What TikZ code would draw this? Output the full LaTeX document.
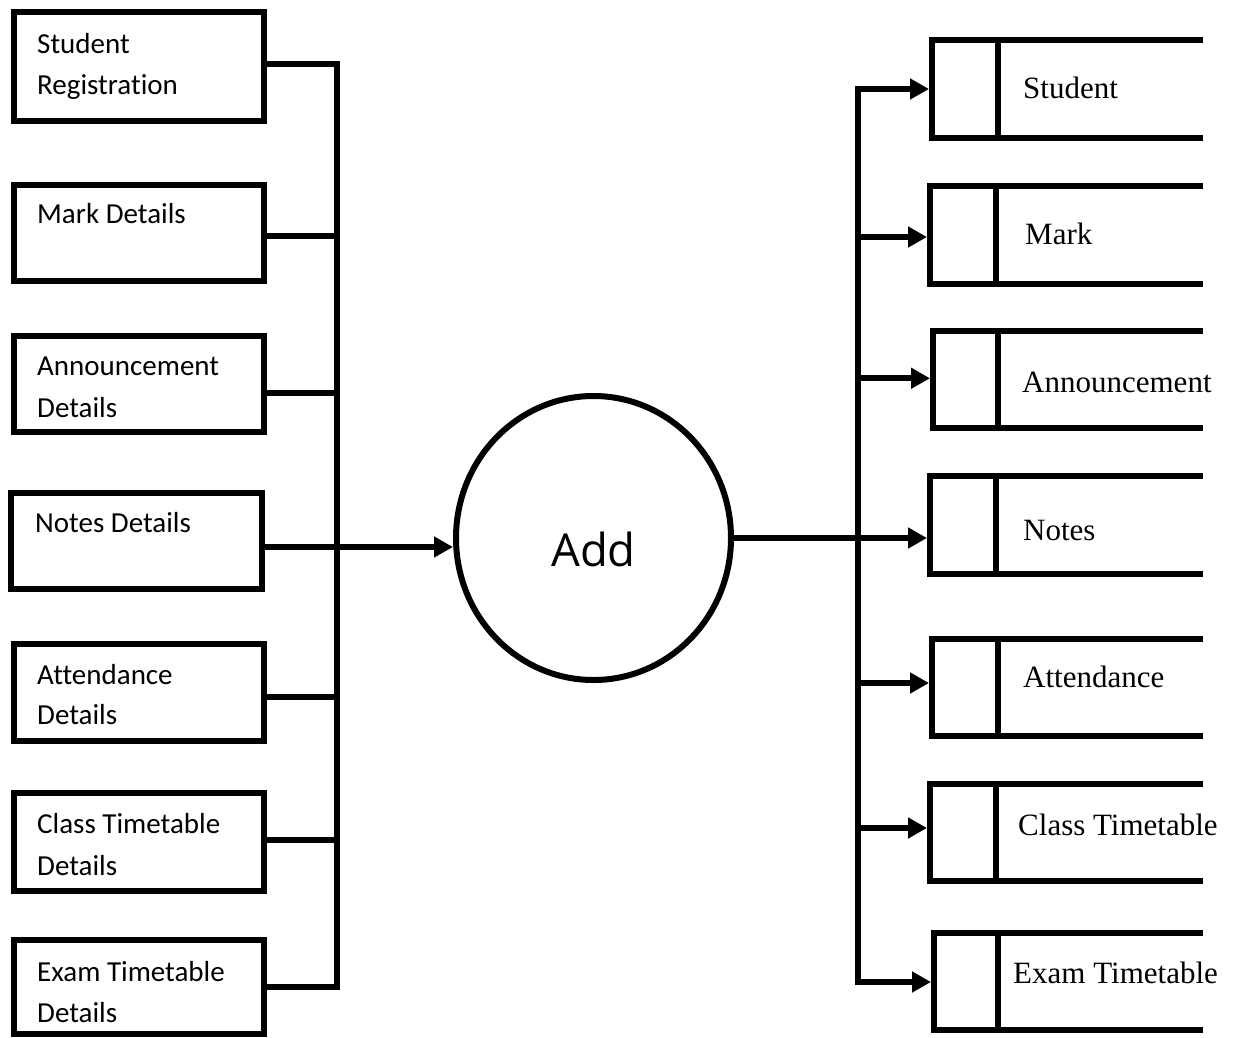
\documentclass[tikz,border=0pt]{standalone}
\usepackage{fontspec}
\newfontfamily\calfont[Ligatures={NoCommon,NoContextual}]{Carlito}
\newfontfamily\tnrfont{Liberation Serif}
\newfontfamily\osfont{Open Sans}
\usetikzlibrary{shapes.geometric,arrows.meta}
\tikzset{
  ln/.style={line width=6pt},
  arr/.style={line width=6pt,-{Triangle[length=19pt,width=20pt]}},
  lbox/.style={draw,line width=6pt,rectangle,inner sep=0pt,minimum width=250.5pt},
  sbox/.style={draw,line width=6pt,rectangle,inner sep=0pt,outer sep=0pt,minimum width=66pt,minimum height=98pt},
  ltxt/.style={anchor=base west,inner sep=0pt,font=\calfont\fontsize{29}{35}\selectfont},
  rtxt/.style={anchor=base west,inner sep=0pt,font=\tnrfont\fontsize{31}{37}\selectfont},
}
\begin{document}
\begin{tikzpicture}[x=1pt,y=-1pt]
\useasboundingbox (0,0) rectangle (1240,1037);
% left boxes
\node[lbox,minimum height=109pt] (b1) at (138.75,66.5) {};
\node[lbox,minimum height=96.5pt] (b2) at (138.75,232.75) {};
\node[lbox,minimum height=96pt] (b3) at (138.75,383.5) {};
\node[lbox,minimum height=95.5pt] (b4) at (136.5,540.75) {};
\node[lbox,minimum height=96.5pt] (b5) at (138.75,692.25) {};
\node[lbox,minimum height=98pt] (b6) at (138.75,842) {};
\node[lbox,minimum height=94pt] (b7) at (138.75,987) {};
% left texts
\node[ltxt] (t1a) at (37,53) {Student};
\node[ltxt] (t1b) at (37,94) {Registration};
\node[ltxt] (t2) at (37,223) {Mark Details};
\node[ltxt] (t3a) at (37,375) {Announcement};
\node[ltxt] (t3b) at (37,417) {Details};
\node[ltxt] (t4) at (35,532) {Notes Details};
\node[ltxt] (t5a) at (37,684) {Attendance};
\node[ltxt] (t5b) at (37,724) {Details};
\node[ltxt] (t6a) at (37,833) {Class Timetable};
\node[ltxt] (t6b) at (37,875) {Details};
\node[ltxt] (t7a) at (37,981) {Exam Timetable};
\node[ltxt] (t7b) at (37,1022) {Details};
% process
\node[draw,ellipse,line width=6pt,inner sep=0pt,minimum width=275pt,minimum height=284pt] (add) at (593.5,538) {};
\node[anchor=base,inner sep=0pt,font=\osfont\fontsize{45.5}{54}\selectfont] (addt) at (593.5,566) {Add};
% left bus
\coordinate (lbus) at (337,0);
\draw[ln,line join=miter] ([yshift=2.5pt]b1.east) -- ([yshift=2.5pt]b1.east -| lbus) -- (b7.east -| lbus) -- (b7.east);
\draw[ln] ([yshift=-3.25pt]b2.east) -- ([yshift=-3.25pt]b2.east -| lbus);
\draw[ln] ([yshift=-9.5pt]b3.east) -- ([yshift=-9.5pt]b3.east -| lbus);
\draw[ln] ([yshift=-4.75pt]b5.east) -- ([yshift=-4.75pt]b5.east -| lbus);
\draw[ln] ([yshift=2pt]b6.east) -- ([yshift=2pt]b6.east -| lbus);
\draw[arr] ([yshift=-6.25pt]b4.east) -- ([yshift=-6.25pt]b4.east -| add.west);
% data stores
\node[sbox] (s1) at (965,89) {};
\node[sbox] (s2) at (963,235) {};
\node[sbox,minimum width=65pt,minimum height=97.5pt] (s3) at (965.5,379.25) {};
\node[sbox,minimum height=97.5pt] (s4) at (963,524.75) {};
\node[sbox,minimum height=97pt] (s5) at (965,687.5) {};
\node[sbox,minimum height=97pt] (s6) at (963,832.5) {};
\node[sbox,minimum width=64pt,minimum height=97pt] (s7) at (966,981.5) {};
\coordinate (rend) at (1203,0);
\foreach \s in {s1,s2,s3,s4,s5,s6,s7}{
  \draw[ln] (\s.north) -- (\s.north -| rend);
  \draw[ln] (\s.south) -- (\s.south -| rend);
}
% right texts
\node[rtxt] (r1) at (1023,98) {Student};
\node[rtxt] (r2) at (1025,244) {Mark};
\node[rtxt] (r3) at (1022,392) {Announcement};
\node[rtxt] (r4) at (1023,540) {Notes};
\node[rtxt] (r5) at (1023,687) {Attendance};
\node[rtxt] (r6) at (1018,835) {Class Timetable};
\node[rtxt] (r7) at (1013,983) {Exam Timetable};
% right bus
\coordinate (rbus) at (858,0);
\draw[ln,line cap=rect] (s1.west -| rbus) -- ([yshift=-0.5pt]s7.west -| rbus);
\draw[arr] (s1.west -| rbus) -- ([xshift=-3pt]s1.west);
\draw[arr] ([yshift=-2pt]s2.west -| rbus) -- ([yshift=-2pt,xshift=-3pt]s2.west);
\draw[arr] ([yshift=1pt]s3.west -| rbus) -- ([yshift=1pt,xshift=-3pt]s3.west);
\draw[arr] (add.east) -- ([xshift=-3pt]add.east -| s4.west);
\draw[arr] ([yshift=4.5pt]s5.west -| rbus) -- ([yshift=4.5pt,xshift=-3pt]s5.west);
\draw[arr] ([yshift=4.5pt]s6.west -| rbus) -- ([yshift=4.5pt,xshift=-3pt]s6.west);
\draw[arr] ([yshift=-0.5pt]s7.west -| rbus) -- ([yshift=-0.5pt,xshift=-3pt]s7.west);
\end{tikzpicture}
\end{document}
